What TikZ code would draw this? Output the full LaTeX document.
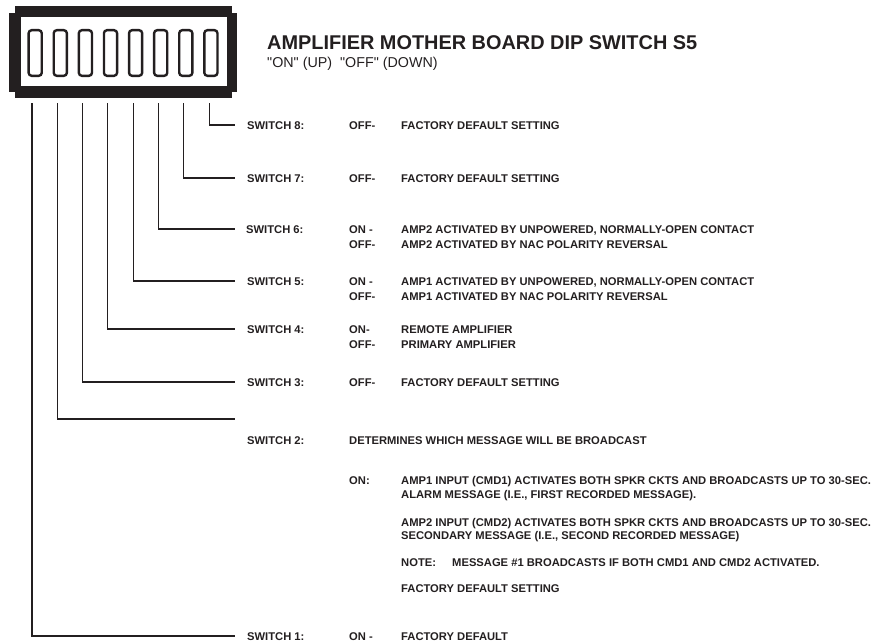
\documentclass[tikz,border=0pt]{standalone}
\usepackage{fontspec}
\setmainfont{Liberation Sans}
\newfontfamily\subfont[Ligatures=TeXOff]{Liberation Sans}
\definecolor{ink}{HTML}{231F20}
\begin{document}
\begin{tikzpicture}[x=1pt,y=-1pt,
  txt/.style={anchor=base west, inner sep=0pt, text=ink, font=\bfseries\fontsize{11.2}{13}\selectfont},
  wire/.style={draw=ink, line width=1.1pt},
  slot/.style={draw=ink, line width=2.4pt, fill=white, rounded corners=3pt, minimum width=13.1pt, minimum height=45.6pt, inner sep=0pt}]
\useasboundingbox (0,0) rectangle (875,642);
% switch body
\fill[ink] (15,6) rectangle (232,98);
\fill[ink] (9,13) rectangle (237,92);
\fill[white] (21,17) rectangle (227,86);
\foreach \i in {1,...,8} {
  \node[slot] (s\i) at ({35.2+25.1*(\i-1)},53) {};
  \coordinate (t\i) at ({32+25.3*(\i-1)},103);
}
% title
\node[anchor=base west, inner sep=0pt, text=ink, font=\bfseries\fontsize{19.9}{22}\selectfont] (title) at (267,49) {AMPLIFIER MOTHER BOARD DIP SWITCH S5};
\node[anchor=base west, inner sep=0pt, text=ink, font=\subfont\fontsize{14.3}{16}\selectfont] (subtitle) at (267,67) {"ON" (UP)\ \ "OFF" (DOWN)};
% line ends
\coordinate (e8) at (235,125);
\coordinate (e7) at (235,178);
\coordinate (e6) at (235,229);
\coordinate (e5) at (235,281);
\coordinate (e4) at (235,329);
\coordinate (e3) at (235,382);
\coordinate (e2) at (235,419);
\coordinate (e1) at (235,636);
\foreach \i in {1,...,8} \draw[wire] (t\i) |- (e\i);
% switch 8
\node[txt] (L8) at (247,129) {SWITCH 8:};
\node[txt] (L8a) at (349,129) {OFF-};
\node[txt] (L8b) at (401,129) {FACTORY DEFAULT SETTING};
% switch 7
\node[txt] (L7) at (247,182) {SWITCH 7:};
\node[txt] (L7a) at (349,182) {OFF-};
\node[txt] (L7b) at (401,182) {FACTORY DEFAULT SETTING};
% switch 6
\node[txt] (L6) at (246,233) {SWITCH 6:};
\node[txt] (L6a) at (349,233) {ON -};
\node[txt] (L6b) at (401,233) {AMP2 ACTIVATED BY UNPOWERED, NORMALLY-OPEN CONTACT};
\node[txt] (L6c) at (349,248) {OFF-};
\node[txt] (L6d) at (401,248) {AMP2 ACTIVATED BY NAC POLARITY REVERSAL};
% switch 5
\node[txt] (L5) at (247,285) {SWITCH 5:};
\node[txt] (L5a) at (349,285) {ON -};
\node[txt] (L5b) at (401,285) {AMP1 ACTIVATED BY UNPOWERED, NORMALLY-OPEN CONTACT};
\node[txt] (L5c) at (349,300) {OFF-};
\node[txt] (L5d) at (401,300) {AMP1 ACTIVATED BY NAC POLARITY REVERSAL};
% switch 4
\node[txt] (L4) at (247,333) {SWITCH 4:};
\node[txt] (L4a) at (349,333) {ON-};
\node[txt] (L4b) at (401,333) {REMOTE AMPLIFIER};
\node[txt] (L4c) at (349,348) {OFF-};
\node[txt] (L4d) at (401,348) {PRIMARY AMPLIFIER};
% switch 3
\node[txt] (L3) at (247,386) {SWITCH 3:};
\node[txt] (L3a) at (349,386) {OFF-};
\node[txt] (L3b) at (401,386) {FACTORY DEFAULT SETTING};
% switch 2
\node[txt] (L2) at (247,444) {SWITCH 2:};
\node[txt] (L2a) at (349,444) {DETERMINES WHICH MESSAGE WILL BE BROADCAST};
\node[txt] (L2b) at (349,484) {ON:};
\node[txt] (L2c) at (401,484) {AMP1 INPUT (CMD1) ACTIVATES BOTH SPKR CKTS AND BROADCASTS UP TO 30-SEC.};
\node[txt] (L2d) at (401,498) {ALARM MESSAGE (I.E., FIRST RECORDED MESSAGE).};
\node[txt] (L2e) at (401,526) {AMP2 INPUT (CMD2) ACTIVATES BOTH SPKR CKTS AND BROADCASTS UP TO 30-SEC.};
\node[txt] (L2f) at (401,539) {SECONDARY MESSAGE (I.E., SECOND RECORDED MESSAGE)};
\node[txt] (L2g) at (401,566) {NOTE:};
\node[txt] (L2h) at (452,566) {MESSAGE \#1 BROADCASTS IF BOTH CMD1 AND CMD2 ACTIVATED.};
\node[txt] (L2i) at (401,592) {FACTORY DEFAULT SETTING};
% switch 1
\node[txt] (L1) at (247,640) {SWITCH 1:};
\node[txt] (L1a) at (349,640) {ON -};
\node[txt] (L1b) at (401,640) {FACTORY DEFAULT};
\end{tikzpicture}
\end{document}
